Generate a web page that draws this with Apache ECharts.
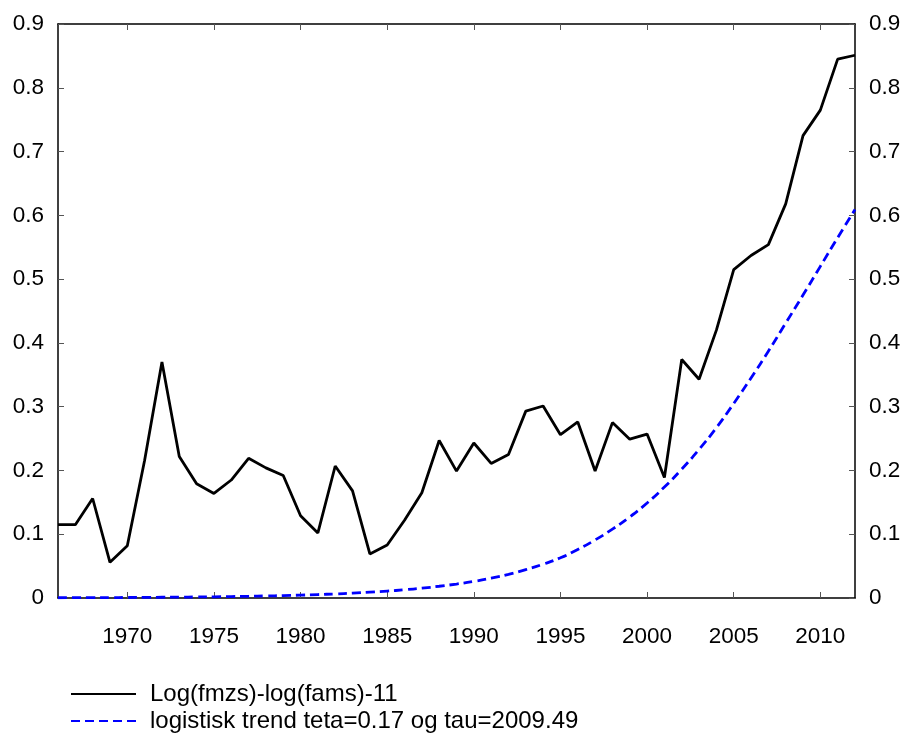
<!DOCTYPE html>
<html>
<head>
<meta charset="utf-8">
<script src="https://cdn.jsdelivr.net/npm/echarts@6/dist/echarts.min.js"></script>
<style>
html,body{margin:0;padding:0;background:#fff;}
#c{width:911px;height:740px;}
</style>
</head>
<body>
<div id="c"></div>
<script>
var years = [1966,1967,1968,1969,1970,1971,1972,1973,1974,1975,1976,1977,1978,1979,1980,1981,1982,1983,1984,1985,1986,1987,1988,1989,1990,1991,1992,1993,1994,1995,1996,1997,1998,1999,2000,2001,2002,2003,2004,2005,2006,2007,2008,2009,2010,2011,2012];
var seriesNames = ["Log(fmzs)-log(fams)-11", "logistisk trend teta=0.17 og tau=2009.49"];
var observed = [0.115,0.115,0.156,0.056,0.082,0.216,0.370,0.222,0.179,0.164,0.185,0.219,0.204,0.192,0.129,0.102,0.207,0.168,0.069,0.083,0.122,0.165,0.247,0.199,0.243,0.211,0.225,0.293,0.301,0.256,0.276,0.199,0.275,0.249,0.257,0.189,0.374,0.343,0.420,0.515,0.537,0.554,0.618,0.725,0.765,0.845,0.851];
var trend = [0.0004,0.0005,0.0006,0.0007,0.0008,0.0010,0.0012,0.0014,0.0016,0.0019,0.0023,0.0027,0.0032,0.0038,0.0045,0.0054,0.0064,0.0077,0.0091,0.0108,0.0129,0.0154,0.0184,0.0219,0.0260,0.0310,0.0370,0.0445,0.0530,0.0630,0.0760,0.0910,0.1080,0.1270,0.1490,0.1740,0.2020,0.2330,0.2670,0.3050,0.3450,0.3870,0.4310,0.4750,0.5200,0.5650,0.6090];
var xTickLabels = [1970,1975,1980,1985,1990,1995,2000,2005,2010];
var yTickLabels = [0,0.1,0.2,0.3,0.4,0.5,0.6,0.7,0.8,0.9];

var FONT = "Liberation Sans";
var FS = 22.5;
var chart = echarts.init(document.getElementById('c'), null, {renderer:'canvas'});

function pairs(vals){ return years.map(function(y,i){ return [y, vals[i]]; }); }

var yAxisCommon = {
  type:'value', min:0, max:0.9, interval:0.1,
  axisLine:{show:true, lineStyle:{color:'#000', width:1.5}},
  axisTick:{show:true, inside:true, length:6, lineStyle:{color:'#555', width:1}},
  splitLine:{show:false},
  axisLabel:{color:'#000', fontFamily:FONT, fontSize:FS, margin:14,
    formatter:function(v){ var r=Math.round(v*10)/10; return yTickLabels.indexOf(r)>=0 ? String(r) : ''; }}
};

var legendCommon = {
  orient:'horizontal', left:65, itemWidth:65, itemHeight:14, itemGap:10,
  itemStyle:{opacity:0},
  textStyle:{color:'#000', fontFamily:FONT, fontSize:24, padding:[0,0,0,9]}
};

chart.setOption({
  animation:false,
  backgroundColor:'#fff',
  grid:{left:58, right:56, top:24, bottom:142, containLabel:false},
  xAxis:[
    {type:'value', min:1966, max:2012, position:'bottom',
     axisLine:{show:true, onZero:false, lineStyle:{color:'#000', width:1.5}},
     axisTick:{show:true, inside:true, length:6, customValues:xTickLabels, lineStyle:{color:'#555', width:1}},
     axisLabel:{show:true, customValues:xTickLabels, color:'#000', fontFamily:FONT, fontSize:FS, margin:27,
       formatter:function(v){ return String(v); }},
     splitLine:{show:false}},
    {type:'value', min:1966, max:2012, position:'top',
     axisLine:{show:true, onZero:false, lineStyle:{color:'#000', width:1.5}},
     axisTick:{show:true, inside:true, length:6, customValues:xTickLabels, lineStyle:{color:'#555', width:1}},
     axisLabel:{show:false},
     splitLine:{show:false}}
  ],
  yAxis:[
    Object.assign({}, yAxisCommon, {position:'left'}),
    Object.assign({}, yAxisCommon, {position:'right'})
  ],
  legend:[
    Object.assign({}, legendCommon, {top:677, data:[{name:seriesNames[0]}]}),
    Object.assign({}, legendCommon, {top:704, data:[{name:seriesNames[1]}]})
  ],
  series:[
    {name:seriesNames[0], type:'line', data:pairs(observed), xAxisIndex:0, yAxisIndex:0,
     symbol:'none', lineStyle:{color:'#000', width:2.8}, itemStyle:{color:'#000'}},
    {name:seriesNames[1], type:'line', data:pairs(trend), xAxisIndex:0, yAxisIndex:0,
     symbol:'none', smooth:true, lineStyle:{color:'#0000ff', width:2.8, type:[9,5]}, itemStyle:{color:'#0000ff'}}
  ]
});
</script>
</body>
</html>
